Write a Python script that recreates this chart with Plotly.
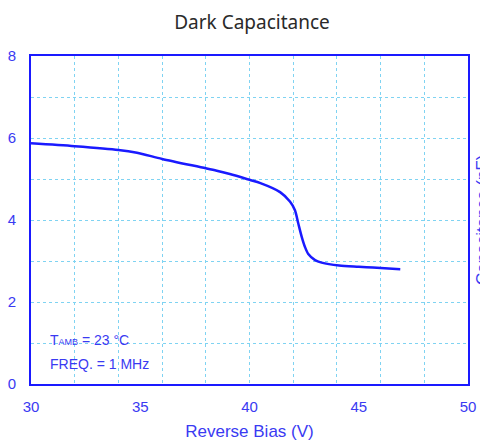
import plotly.graph_objects as go

bias_v = [30.0, 32.0, 34.0, 34.85, 36.0, 38.0, 38.5, 39.1, 40.0, 40.5, 41.4, 41.85, 42.08,
          42.23, 42.39, 42.54, 42.69, 43.0, 43.3, 44.1, 45.0, 45.65, 46.9]
cap_pf = [5.87, 5.80, 5.71, 5.64, 5.49, 5.26, 5.20, 5.12, 4.98, 4.90, 4.68, 4.45, 4.24,
          3.92, 3.59, 3.34, 3.17, 3.02, 2.96, 2.89, 2.86, 2.84, 2.80]

x_ticks = [30, 35, 40, 45, 50]
y_ticks = [0, 2, 4, 6, 8]

BLUE = "#1a1aff"
LBL = "#3a3af2"
GRID = "#7fd3f2"

fig = go.Figure()
# invisible companion trace that carries the 2-V grid axis
fig.add_trace(go.Scatter(x=bias_v, y=cap_pf, mode="lines", xaxis="x2", yaxis="y",
                         line=dict(color="rgba(0,0,0,0)", width=0),
                         hoverinfo="skip", showlegend=False))
fig.add_trace(go.Scatter(x=bias_v, y=cap_pf, mode="lines", xaxis="x", yaxis="y",
                         line=dict(color=BLUE, width=2.5, shape="spline", smoothing=0.8),
                         hoverinfo="skip", showlegend=False))

fig.update_layout(
    width=480, height=441,
    margin=dict(l=31, r=12, t=56, b=57, autoexpand=False),
    paper_bgcolor="white", plot_bgcolor="white",
    title=dict(text="Dark Capacitance", x=0.525, xanchor="center", y=0.95, yanchor="middle",
               font=dict(family="Noto Sans", size=19, color="#2a2a2a")),
    xaxis=dict(range=[30, 50], tickvals=x_ticks, ticktext=[str(v) for v in x_ticks],
               showgrid=False, zeroline=False, showline=True, mirror=True,
               linecolor=BLUE, linewidth=2, ticks="", ticklabelstandoff=8,
               automargin=False,
               tickfont=dict(family="Liberation Sans", size=15, color=LBL),
               title=dict(text="Reverse Bias (V)", standoff=12,
                          font=dict(family="Liberation Sans", size=17, color=LBL))),
    xaxis2=dict(range=[30, 50], overlaying="x", anchor="y", side="bottom", tick0=30, dtick=2,
                showgrid=True, gridcolor=GRID, griddash="dot", gridwidth=1,
                showticklabels=False, zeroline=False, showline=False, automargin=False),
    yaxis=dict(range=[0, 8], tickvals=y_ticks, showgrid=True, gridcolor=GRID,
               griddash="dot", gridwidth=1, zeroline=False, showline=True, mirror=True,
               linecolor=BLUE, linewidth=2, ticks="", ticklabelstandoff=10,
               automargin=False,
               minor=dict(dtick=1, showgrid=True, gridcolor=GRID, griddash="dot", gridwidth=1),
               tickfont=dict(family="Liberation Sans", size=15, color=LBL)),
    annotations=[
        dict(text="T<span style='font-size:9px'>AMB</span> = 23 °C", xref="paper", yref="y",
             x=0.039, y=1.07, xanchor="left", yanchor="middle", showarrow=False,
             font=dict(family="Liberation Sans", size=14, color=LBL)),
        dict(text="FREQ. = 1 MHz", xref="paper", yref="y",
             x=0.039, y=0.48, xanchor="left", yanchor="middle", showarrow=False,
             font=dict(family="Liberation Sans", size=14, color=LBL)),
        dict(text="Capacitance (pF)", xref="paper", yref="paper", x=1.032, y=0.5,
             xanchor="center", yanchor="middle", textangle=-90, showarrow=False,
             font=dict(family="Liberation Sans", size=17, color=LBL)),
    ],
)

fig.write_html(
    "out.html",
    config={"displayModeBar": False},
    post_script="document.body.style.margin='0';document.body.style.overflow='hidden';",
)
